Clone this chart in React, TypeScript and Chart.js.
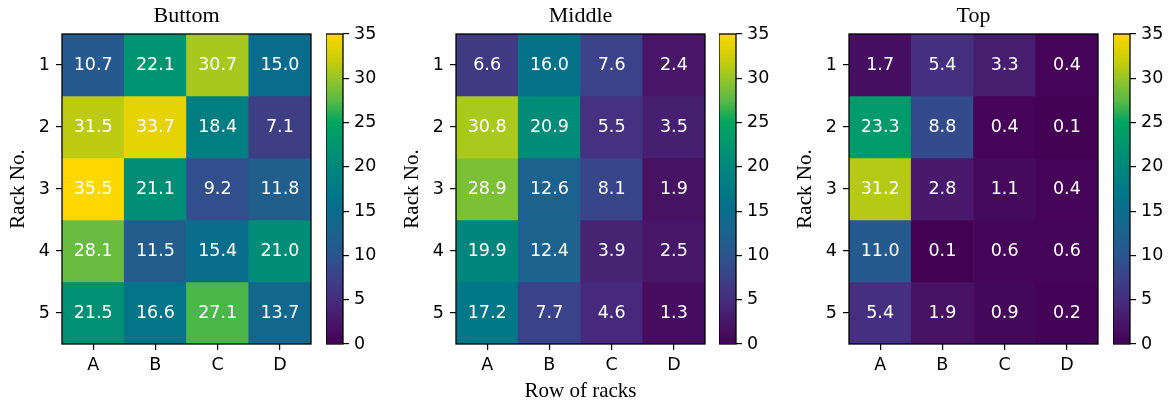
import React, { useEffect, useRef } from 'react';
import { Chart, registerables } from 'chart.js';

Chart.register(...registerables);

// ---------- data ----------
const columns = ['A', 'B', 'C', 'D'];
const rackNos = [1, 2, 3, 4, 5];
const bottomValues = [
  [10.7, 22.1, 30.7, 15.0],
  [31.5, 33.7, 18.4, 7.1],
  [35.5, 21.1, 9.2, 11.8],
  [28.1, 11.5, 15.4, 21.0],
  [21.5, 16.6, 27.1, 13.7],
];
const middleValues = [
  [6.6, 16.0, 7.6, 2.4],
  [30.8, 20.9, 5.5, 3.5],
  [28.9, 12.6, 8.1, 1.9],
  [19.9, 12.4, 3.9, 2.5],
  [17.2, 7.7, 4.6, 1.3],
];
const topValues = [
  [1.7, 5.4, 3.3, 0.4],
  [23.3, 8.8, 0.4, 0.1],
  [31.2, 2.8, 1.1, 0.4],
  [11.0, 0.1, 0.6, 0.6],
  [5.4, 1.9, 0.9, 0.2],
];
const panelTitles = ['Buttom', 'Middle', 'Top'];
const xAxisTitles = ['', 'Row of racks', ''];
const yAxisTitle = 'Rack No.';
const colorbarTicks = [0, 5, 10, 15, 20, 25, 30, 35];
const colorMin = 0;
const colorMax = 35;

// colormap stops (fraction, rgb)
const cmapStops: [number, [number, number, number]][] = [
  [0.0, [68, 1, 84]],
  [0.071, [72, 22, 105]],
  [0.143, [70, 45, 125]],
  [0.214, [60, 65, 135]],
  [0.286, [42, 85, 142]],
  [0.357, [28, 98, 142]],
  [0.429, [10, 108, 140]],
  [0.5, [0, 122, 135]],
  [0.571, [0, 135, 125]],
  [0.643, [0, 150, 112]],
  [0.714, [0, 165, 95]],
  [0.786, [90, 185, 70]],
  [0.857, [150, 198, 40]],
  [0.914, [200, 205, 10]],
  [1.0, [252, 215, 0]],
];

// ---------- layout ----------
const H = 406;
const PLOT_LEFT = [62, 456, 849];
const PLOT_W = 249;
const AXIS_W = 62;
const PLOT_TOP = 34;
const PLOT_BOTTOM = 344;
const CB_LEFT = [326, 719, 1113];
const CB_W = 17;
const CB_AXIS_W = 55;

const rgb = (c: number[]) => `rgb(${c[0]},${c[1]},${c[2]})`;

function colorFor(v: number): string {
  let t = (v - colorMin) / (colorMax - colorMin);
  t = Math.max(0, Math.min(1, t));
  for (let i = 1; i < cmapStops.length; i++) {
    const [t1, c1] = cmapStops[i];
    const [t0, c0] = cmapStops[i - 1];
    if (t <= t1) {
      const f = (t - t0) / (t1 - t0);
      return rgb(c0.map((a, k) => Math.round(a + (c1[k] - a) * f)));
    }
  }
  return rgb(cmapStops[cmapStops.length - 1][1]);
}

const TICK_FONT = { family: 'DejaVu Sans', size: 17.5 };
const SERIF_FONT = { family: 'Liberation Serif', size: 21 };

const framePlugin = {
  id: 'frame',
  afterDatasetsDraw(chart: any) {
    const { ctx, chartArea: a } = chart;
    ctx.save();
    ctx.strokeStyle = '#000';
    ctx.lineWidth = 1.3;
    ctx.strokeRect(a.left, a.top, a.right - a.left, a.bottom - a.top);
    ctx.restore();
  },
};

const valuePlugin = {
  id: 'cellValues',
  afterDatasetsDraw(chart: any) {
    const { ctx } = chart;
    ctx.save();
    ctx.fillStyle = '#ffffff';
    ctx.font = '17.5px "DejaVu Sans"';
    ctx.textAlign = 'center';
    ctx.textBaseline = 'middle';
    chart.data.datasets.forEach((ds: any, di: number) => {
      const meta = chart.getDatasetMeta(di);
      meta.data.forEach((bar: any, j: number) => {
        const v = ds.cellValues[j];
        ctx.fillText(v.toFixed(1), bar.x, (bar.y + bar.base) / 2);
      });
    });
    ctx.restore();
  },
};

function Heatmap({ index, values }: { index: number; values: number[][] }) {
  const ref = useRef<HTMLCanvasElement>(null);
  const left = PLOT_LEFT[index] - AXIS_W;
  const width = AXIS_W + PLOT_W + 2;
  useEffect(() => {
    const chart = new Chart(ref.current as HTMLCanvasElement, {
      type: 'bar',
      data: {
        labels: columns,
        datasets: rackNos.map((r, i) => ({
          label: 'Rack ' + r,
          data: columns.map(() => [r - 0.5, r + 0.5]),
          backgroundColor: values[i].map(colorFor),
          cellValues: values[i],
          borderWidth: 0,
          barPercentage: 1,
          categoryPercentage: 1,
          grouped: false,
        })) as any,
      },
      options: {
        responsive: false,
        animation: false,
        layout: { padding: { left: 0, right: 2, top: 0, bottom: 0 } },
        plugins: {
          legend: { display: false },
          tooltip: { enabled: false },
          title: { display: false },
        },
        scales: {
          xTop: {
            type: 'category',
            position: 'top',
            labels: columns,
            offset: true,
            grid: { display: false },
            border: { display: false },
            ticks: { display: false },
            title: {
              display: true,
              text: panelTitles[index],
              color: '#000',
              font: { family: 'Liberation Serif', size: 22, weight: 'normal' },
              padding: { top: 3.5, bottom: 0 },
            },
            afterFit: (s: any) => { s.height = PLOT_TOP; },
          },
          x: {
            type: 'category',
            offset: true,
            grid: { display: true, offset: false, drawOnChartArea: false, drawTicks: true, tickLength: 6, color: '#000', lineWidth: 1.2 },
            border: { display: false },
            ticks: { color: '#000', font: TICK_FONT, padding: 5, maxRotation: 0 },
            title: {
              display: xAxisTitles[index] !== '',
              text: xAxisTitles[index],
              color: '#000',
              font: SERIF_FONT,
              padding: { top: 0, bottom: 1.5 },
            },
            afterFit: (s: any) => { s.height = H - PLOT_BOTTOM; },
          },
          y: {
            type: 'linear',
            min: 0.5,
            max: 5.5,
            reverse: true,
            afterBuildTicks: (s: any) => { s.ticks = rackNos.map((v) => ({ value: v })); },
            grid: { display: true, drawOnChartArea: false, drawTicks: true, tickLength: 6, color: '#000', lineWidth: 1.2 },
            border: { display: false },
            ticks: { color: '#000', font: TICK_FONT, padding: 6, callback: (v: any) => String(v) },
            title: {
              display: true,
              text: yAxisTitle,
              color: '#000',
              font: SERIF_FONT,
              padding: { top: 5.5, bottom: 0 },
            },
            afterFit: (s: any) => { s.width = AXIS_W; },
          },
        },
      } as any,
      plugins: [framePlugin, valuePlugin],
    });
    return () => chart.destroy();
  }, []);
  return (
    <canvas
      ref={ref}
      width={width}
      height={H}
      style={{ position: 'absolute', left, top: 0, width, height: H }}
    />
  );
}

function Colorbar({ index }: { index: number }) {
  const ref = useRef<HTMLCanvasElement>(null);
  const left = CB_LEFT[index];
  const width = CB_W + CB_AXIS_W;
  useEffect(() => {
    const chart = new Chart(ref.current as HTMLCanvasElement, {
      type: 'bar',
      data: {
        labels: ['colorbar'],
        datasets: [
          {
            label: 'scale',
            data: [[colorMin, colorMax]],
            backgroundColor: (ctx: any) => {
              const area = ctx.chart.chartArea;
              if (!area) return 'rgba(0,0,0,0)';
              const g = ctx.chart.ctx.createLinearGradient(0, area.bottom, 0, area.top);
              cmapStops.forEach(([t, c]) => g.addColorStop(t, rgb(c)));
              return g;
            },
            borderWidth: 0,
            barPercentage: 1,
            categoryPercentage: 1,
          },
        ] as any,
      },
      options: {
        responsive: false,
        animation: false,
        layout: { padding: { left: 0, right: 0, top: PLOT_TOP, bottom: H - PLOT_BOTTOM } },
        plugins: { legend: { display: false }, tooltip: { enabled: false }, title: { display: false } },
        scales: {
          x: { display: false },
          y: {
            position: 'right',
            min: colorMin,
            max: colorMax,
            afterBuildTicks: (s: any) => { s.ticks = colorbarTicks.map((v) => ({ value: v })); },
            grid: { display: true, drawOnChartArea: false, drawTicks: true, tickLength: 6, color: '#000', lineWidth: 1.2 },
            border: { display: false },
            ticks: { color: '#000', font: TICK_FONT, padding: 5, callback: (v: any) => String(v) },
            afterFit: (s: any) => { s.width = CB_AXIS_W; },
          },
        },
      } as any,
      plugins: [framePlugin],
    });
    return () => chart.destroy();
  }, []);
  return (
    <canvas
      ref={ref}
      width={width}
      height={H}
      style={{ position: 'absolute', left, top: 0, width, height: H }}
    />
  );
}

export default function App() {
  const panels = [bottomValues, middleValues, topValues];
  return (
    <div
      style={{
        position: 'fixed',
        left: 0,
        top: 0,
        width: 1170,
        height: H,
        overflow: 'hidden',
        background: '#fff',
      }}
    >
      {panels.map((vals, i) => (
        <React.Fragment key={i}>
          <Heatmap index={i} values={vals} />
          <Colorbar index={i} />
        </React.Fragment>
      ))}
    </div>
  );
}
